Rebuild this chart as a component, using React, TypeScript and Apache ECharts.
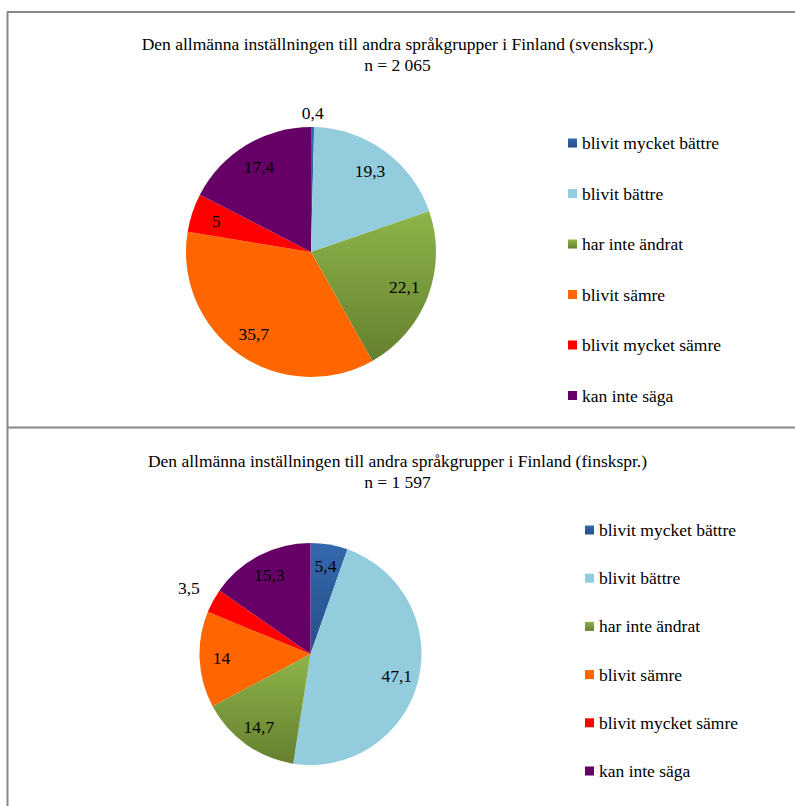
import React, { useEffect, useRef } from "react";
import * as echarts from "echarts";

const CATEGORIES = [
  "blivit mycket bättre",
  "blivit bättre",
  "har inte ändrat",
  "blivit sämre",
  "blivit mycket sämre",
  "kan inte säga",
];
const VALUES_SV = [0.4, 19.3, 22.1, 35.7, 5, 17.4];
const VALUES_FI = [5.4, 47.1, 14.7, 14, 3.5, 15.3];
const TITLE_SV = "Den allmänna inställningen till andra språkgrupper i Finland (svenskspr.)\nn = 2 065";
const TITLE_FI = "Den allmänna inställningen till andra språkgrupper i Finland (finskspr.)\nn = 1 597";
// indices of slices whose label sits outside the pie
const OUTSIDE_SV = [0];
const OUTSIDE_FI = [4];

const FONT = "Liberation Serif";
const FS = 17.5;

function grad(a: string, b: string) {
  return new echarts.graphic.LinearGradient(0, 0, 0, 1, [
    { offset: 0, color: a },
    { offset: 1, color: b },
  ]);
}

const COLORS = [
  grad("#3468AD", "#274F88"),
  "#93CDDD",
  grad("#8DB449", "#65802F"),
  "#FF6600",
  "#FF0000",
  "#660066",
];

const fmt = (v: number) => String(v).replace(".", ",");

function buildSeries(values: number[], outside: number[], center: [number, number], R: number, outerR: number) {
  const realData = values.map((v, i) => ({
    name: CATEGORIES[i],
    value: v,
    itemStyle: { color: COLORS[i] },
  }));
  const inLabelData = values.map((v, i) => ({
    name: CATEGORIES[i],
    value: v,
    label: { show: !outside.includes(i) },
  }));
  const outLabelData = values.map((v, i) => ({
    name: CATEGORIES[i],
    value: v,
    label: { show: outside.includes(i) },
  }));
  const labelStyle = {
    position: "inside",
    formatter: (p: any) => fmt(p.value),
    fontFamily: FONT,
    fontSize: FS,
    color: "#000",
  };
  return [
    {
      type: "pie",
      center,
      radius: [0, R],
      startAngle: 90,
      clockwise: true,
      silent: true,
      label: { show: false },
      labelLine: { show: false },
      itemStyle: { borderWidth: 0 },
      data: realData,
    },
    {
      type: "pie",
      center,
      radius: [R * 0.55, R],
      startAngle: 90,
      clockwise: true,
      silent: true,
      itemStyle: { color: "rgba(0,0,0,0)", borderWidth: 0 },
      label: labelStyle,
      labelLine: { show: false },
      data: inLabelData,
    },
    {
      type: "pie",
      center,
      radius: [R, outerR],
      startAngle: 90,
      clockwise: true,
      silent: true,
      itemStyle: { color: "rgba(0,0,0,0)", borderWidth: 0 },
      label: labelStyle,
      labelLine: { show: false },
      data: outLabelData,
    },
  ];
}

export default function App() {
  const ref = useRef<HTMLDivElement>(null);
  useEffect(() => {
    if (!ref.current) return;
    const chart = echarts.init(ref.current, null, { renderer: "svg" });
    const titleStyle = {
      fontFamily: FONT,
      fontSize: FS,
      fontWeight: "normal",
      color: "#000",
      lineHeight: 21,
    };
    const legendBase = {
      orient: "vertical",
      icon: "rect",
      itemWidth: 9,
      itemHeight: 9,
      padding: 0,
      selectedMode: false,
      data: CATEGORIES,
      textStyle: { fontFamily: FONT, fontSize: FS, color: "#000", lineHeight: 18 },
    };
    chart.setOption({
      animation: false,
      backgroundColor: "#fff",
      title: [
        { text: TITLE_SV, left: "center", top: 33, padding: 0, textStyle: titleStyle },
        { text: TITLE_FI, left: "center", top: 450, padding: 0, textStyle: titleStyle },
      ],
      legend: [
        { ...legendBase, left: 568, top: 134, itemGap: 32.5 },
        { ...legendBase, left: 585, top: 521, itemGap: 30.2 },
      ],
      series: [
        ...buildSeries(VALUES_SV, OUTSIDE_SV, [311, 252], 125, 148),
        ...buildSeries(VALUES_FI, OUTSIDE_FI, [310.5, 654], 111, 160),
      ],
      graphic: [
        { type: "line", shape: { x1: 7.5, y1: 11.5, x2: 7.5, y2: 806 }, style: { stroke: "#888", lineWidth: 2 }, silent: true },
        { type: "line", shape: { x1: 7, y1: 12, x2: 795, y2: 12 }, style: { stroke: "#888", lineWidth: 2 }, silent: true },
        { type: "line", shape: { x1: 7, y1: 427.5, x2: 795, y2: 427.5 }, style: { stroke: "#888", lineWidth: 2 }, silent: true },
      ],
    });
    return () => chart.dispose();
  }, []);
  return (
    <div
      ref={ref}
      style={{ position: "fixed", left: 0, top: 0, width: 795, height: 806 }}
    />
  );
}
